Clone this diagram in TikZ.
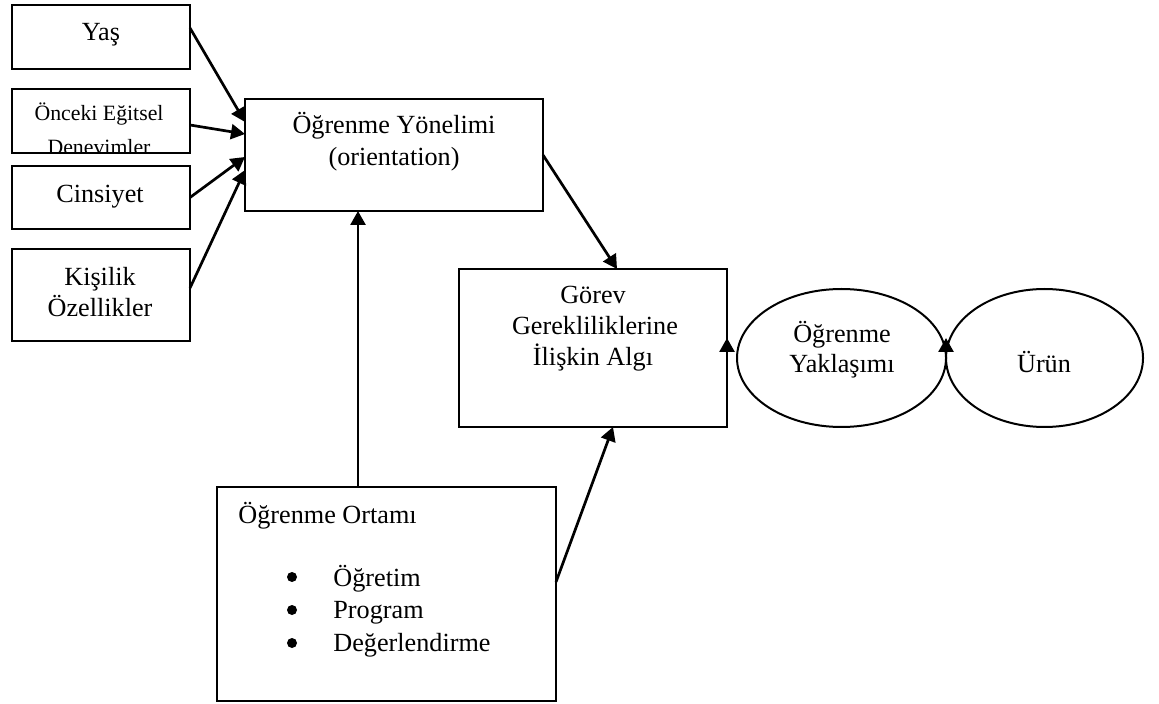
\documentclass[tikz,border=0pt]{standalone}
\usepackage{fontspec}
\setmainfont{Liberation Serif}
\usetikzlibrary{arrows.meta,fit,shapes.geometric}
\begin{document}
\begin{tikzpicture}[x=0.5pt,y=-0.5pt,
  box/.style={draw,line width=1pt,inner sep=0pt,outer sep=0pt},
  oval/.style={draw,ellipse,line width=1pt,inner sep=0pt,outer sep=0pt},
  txt/.style={anchor=base,inner sep=0pt,font=\fontsize{13.1}{15}\selectfont},
  txtw/.style={anchor=base west,inner sep=0pt,font=\fontsize{13.1}{15}\selectfont},
  small/.style={anchor=base,inner sep=0pt,font=\fontsize{10.9}{13}\selectfont},
  arr/.style={line width=1.35pt,-{Triangle[length=7pt,width=7.5pt]}},
  bul/.style={circle,fill,inner sep=0pt,minimum size=5pt}]
\useasboundingbox (0,0) rectangle (1159,704);

% boxes
\node[box,fit={(12,5) (190,69)}] (yas) {};
\node[box,fit={(12,89) (190,153)}] (onc) {};
\node[box,fit={(12,166) (190,229)}] (cin) {};
\node[box,fit={(12,249) (190,341)}] (kis) {};
\node[box,fit={(245,99) (543,211)}] (ori) {};
\node[box,fit={(459,269) (727,427)}] (gor) {};
\node[box,fit={(217,487) (556,701)}] (ort) {};
\node[oval,minimum width=104.5pt,minimum height=69pt] (e1) at (841.5,358) {};
\node[oval,minimum width=98.5pt,minimum height=69pt] (e2) at (1044.5,358) {};

% texts
\node[txt] (yasT) at (101,41) {Yaş};
\begin{scope}
\clip (13,90) rectangle (189,152);
\node[small] (oncT1) at (99,121) {Önceki Eğitsel};
\node[small] (oncT2) at (99,155) {Denevimler};
\end{scope}
\node[txt] (cinT) at (100,203) {Cinsiyet};
\node[txt] (kisT1) at (100,286) {Kişilik};
\node[txt] (kisT2) at (100,317) {Özellikler};
\node[txt] (oriT1) at (394,134) {Öğrenme Yönelimi};
\node[txt] (oriT2) at (394,166) {(orientation)};
\node[txt] (gorT1) at (593,304) {Görev};
\node[txt] (gorT2) at (595,335) {Gerekliliklerine};
\node[txt] (gorT3) at (593,366) {İlişkin Algı};
\node[txt] (e1T1) at (842,343) {Öğrenme};
\node[txt] (e1T2) at (842,373) {Yaklaşımı};
\node[txt] (e2T) at (1044,373) {Ürün};
\node[txtw] (ortT) at (238,523) {Öğrenme Ortamı};
\node[bul] (b1) at (292,577) {};
\node[bul] (b2) at (292,610) {};
\node[bul] (b3) at (292,643) {};
\node[txtw] (i1) at (333,586) {Öğretim};
\node[txtw] (i2) at (333,618) {Program};
\node[txtw] (i3) at (333,651) {Değerlendirme};

% connectors
\draw[arr] ([yshift=4.5pt]yas.east) -- ([yshift=16.5pt]ori.west);
\draw[arr] ([yshift=-2pt]onc.east) -- ([yshift=10.5pt]ori.west);
\draw[arr] (cin.east) -- ([yshift=-1pt]ori.west);
\draw[arr] ([yshift=3.5pt]kis.east) -- ([yshift=-7.5pt]ori.west);
\draw[arr] (ori.east) -- ([xshift=12pt]gor.north);
\draw[arr] ([xshift=-14.25pt]ort.north) -- ([xshift=-14.25pt]ort.north |- ori.south);
\draw[arr] ([yshift=6pt]ort.east) -- ([xshift=10pt]gor.south);
\draw[arr] ([yshift=-3pt]gor.east) -- ([yshift=5pt]gor.east);
\draw[arr] ([yshift=2.5pt]e1.east) -- ([yshift=10pt]e1.east);
\end{tikzpicture}
\end{document}
